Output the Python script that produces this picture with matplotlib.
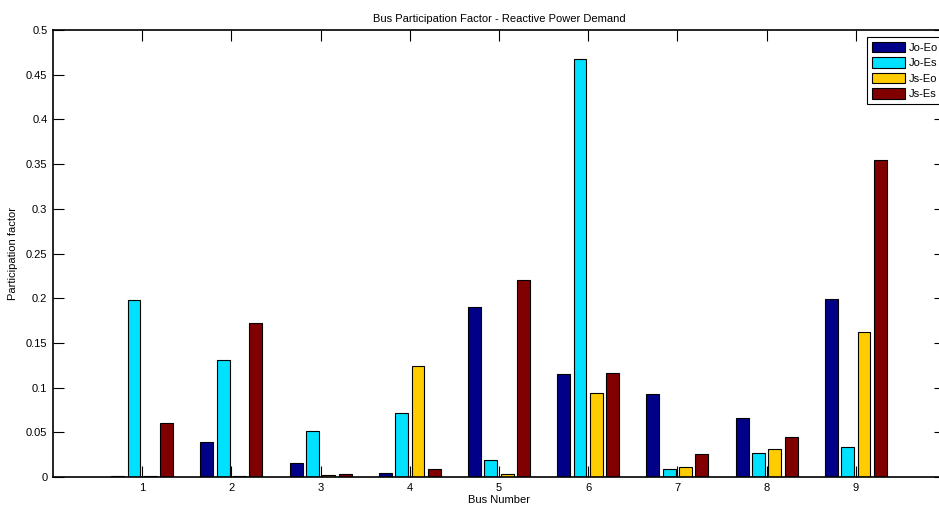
import numpy as np
import matplotlib
matplotlib.use("Agg")
import matplotlib.pyplot as plt

plt.rcParams['font.family'] = ['Liberation Sans', 'DejaVu Sans']

buses = [1, 2, 3, 4, 5, 6, 7, 8, 9]
series_names = ['Jo-Eo', 'Jo-Es', 'Js-Eo', 'Js-Es']
jo_eo = [0.001, 0.0388, 0.0157, 0.0048, 0.1905, 0.1152, 0.0925, 0.0660, 0.1990]
jo_es = [0.198, 0.1305, 0.0510, 0.0716, 0.0187, 0.4680, 0.0086, 0.0265, 0.0332]
js_eo = [0.001, 0.001, 0.0020, 0.1238, 0.0037, 0.0936, 0.0112, 0.0310, 0.1625]
js_es = [0.060, 0.1720, 0.0037, 0.0086, 0.2200, 0.1160, 0.0254, 0.0444, 0.3546]
colors = ['#000088', '#00E0FF', '#FFCC00', '#800000']

fig = plt.figure(figsize=(9.39, 5.08), dpi=100)
ax = fig.add_axes([53 / 939, 31 / 508, 892 / 939, 447 / 508])

x = np.array(buses, dtype=float)
offsets = [-0.275, -0.092, 0.092, 0.275]
width = 0.145
for vals, name, col, off in zip([jo_eo, jo_es, js_eo, js_es], series_names, colors, offsets):
    ax.bar(x + off, vals, width, color=col, edgecolor='black', linewidth=0.8, label=name, zorder=3)

ax.set_xlim(0, 10)
ax.set_ylim(0, 0.5)
ax.set_xticks(buses)
ax.set_yticks(np.arange(0, 0.501, 0.05))
ax.set_yticklabels(['0', '0.05', '0.1', '0.15', '0.2', '0.25', '0.3', '0.35', '0.4', '0.45', '0.5'])
ax.set_axisbelow(True)
ax.tick_params(direction='in', length=8, width=0.8, labelsize=8, top=True, right=True, pad=4)
for s in ax.spines.values():
    s.set_linewidth(1.2)
    s.set_zorder(4)

ax.set_title('Bus Participation Factor - Reactive Power Demand', fontsize=8, pad=6)
ax.set_xlabel('Bus Number', fontsize=8, labelpad=2)
ax.set_ylabel('Participation factor', fontsize=8, labelpad=6)

leg = ax.legend(loc='upper right', bbox_to_anchor=(1.0, 0.99), fontsize=8, fancybox=False,
                edgecolor='black', framealpha=1, handlelength=3.0, handleheight=1.1,
                handletextpad=0.3, labelspacing=0.4, borderpad=0.45, borderaxespad=0.2)
leg.get_frame().set_linewidth(0.8)

fig.savefig('out.png', dpi=100)
